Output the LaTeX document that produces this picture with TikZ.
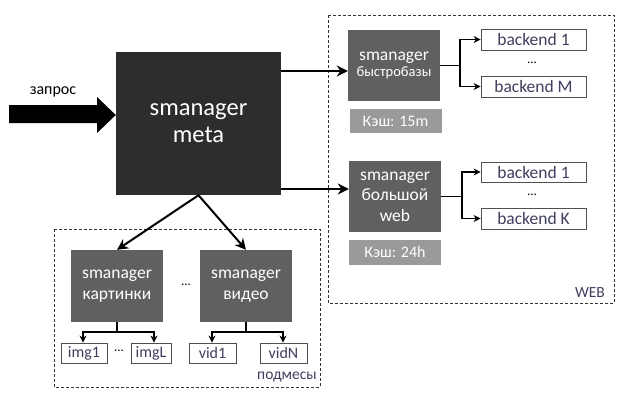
\documentclass[tikz,border=0pt]{standalone}
\usepackage{fontspec}
\setmainfont{Carlito}
\usetikzlibrary{arrows.meta}
\definecolor{metac}{HTML}{2D2D2D}
\definecolor{smc}{HTML}{606060}
\definecolor{cachec}{HTML}{9A9A9A}
\definecolor{slate}{HTML}{3F3F5F}
\definecolor{bordc}{HTML}{505050}
\tikzset{
  metabox/.style={fill=metac, text=white, inner sep=0pt, minimum width=165pt, minimum height=143pt, align=center, font=\fontsize{24.5}{27}\selectfont},
  smbox/.style={fill=smc, text=white, inner sep=0pt, minimum width=92pt, minimum height=71pt, align=center, font=\fontsize{17.5}{20.5}\selectfont},
  cachebox/.style={fill=cachec, text=white, inner sep=0pt, minimum width=92pt, minimum height=24pt, font=\fontsize{16}{18}\selectfont},
  bebox/.style={draw=bordc, line width=0.8pt, fill=white, text=slate, inner sep=0pt, minimum width=105pt, minimum height=21pt, font=\fontsize{17.5}{18}\selectfont},
  smallbox/.style={draw=bordc, line width=0.8pt, fill=white, text=slate, inner sep=0pt, minimum height=20pt, font=\fontsize{16}{18}\selectfont},
  dotsnode/.style={text=black, inner sep=0pt, font=\fontsize{13}{15}\selectfont},
  grp/.style={draw=black!80, line width=0.8pt, dash pattern=on 3pt off 2pt},
  grplabel/.style={text=slate, inner sep=0pt, font=\fontsize{15.5}{18}\selectfont},
  bigarr/.style={-{Stealth[length=11pt,width=11pt]}, line width=2pt},
  forkarr/.style={-{Stealth[length=7pt,width=7pt]}, line width=1.3pt},
}
\begin{document}
\begin{tikzpicture}[x=1pt,y=-1pt]
\useasboundingbox (0,0) rectangle (621,400);
% group frames
\draw[grp] (328,15) rectangle (614,303);
\draw[grp] (54,229) rectangle (320,387);
\node[grplabel] (weblbl) at (590,293) {WEB};
\node[grplabel] (podlbl) at (287,377) {подмесы};

% main
\node[metabox] (meta) at (198.5,123.5) {smanager\\meta};
\fill (9,105) -- (97,105) -- (97,97) -- (meta.west |- 0,115) -- (97,133) -- (97,123) -- (9,123) -- cycle;
\node[inner sep=0pt, font=\fontsize{16}{18}\selectfont] (zapros) at (53,92) {запрос};

% web part
\node[smbox, font=\fontsize{17.5}{16}\selectfont] (bys) at (394,65.5) {smanager\\{\fontsize{14.5}{16}\selectfont быстробазы}};
\node[cachebox] (c15) at (395.5,121) {Кэш: 15m};
\node[bebox] (b1a) at (533.5,39.5) {backend 1};
\node[bebox] (bMa) at (533.5,86.5) {backend M};
\node[dotsnode] (d1) at (532,63) {...};

\node[smbox] (bol) at (395,196.5) {smanager\\большой\\web};
\node[cachebox, minimum height=25pt] (c24) at (395,252.5) {Кэш: 24h};
\node[bebox, minimum height=20pt] (b1b) at (533.5,172) {backend 1};
\node[bebox] (bK) at (533.5,218.5) {backend K};
\node[dotsnode] (d2) at (532,195) {...};

% sub part
\node[smbox, minimum height=72pt] (kart) at (117,286) {smanager\\картинки};
\node[smbox, minimum height=72pt] (vid) at (246,286) {smanager\\видео};
\node[dotsnode] (d3) at (186,285) {...};
\node[smallbox, minimum width=46pt] (img1) at (84,353) {img1};
\node[smallbox, minimum width=40pt] (imgL) at (151,353) {imgL};
\node[dotsnode] (d4) at (119,351) {...};
\node[smallbox, minimum width=47pt] (vid1) at (212.5,353) {vid1};
\node[smallbox, minimum width=47pt] (vidN) at (283.5,353) {vidN};

% connectors from meta
\draw[bigarr] (meta.east |- 0,71) -- (bys.west |- 0,71);
\draw[bigarr] (meta.east |- 0,189) -- (bol.west |- 0,189);
\draw[bigarr] (meta.south) -- (kart.north);
\draw[bigarr] (meta.south) -- (vid.north);

% forks
\draw[line width=1.3pt] (bys.east) -- (460,65.5) coordinate (fa);
\draw[forkarr] (fa) |- (b1a.west);
\draw[forkarr] (fa) |- (bMa.west);
\draw[line width=1.3pt] (bol.east) -- (462,196.5) coordinate (fb);
\draw[forkarr] (fb) |- (b1b.west);
\draw[forkarr] (fb) |- (bK.west);
\draw[line width=1.3pt] (kart.south) -- (117,332) coordinate (fc);
\draw[forkarr] (fc) -| (img1.north -| 83,0);
\draw[forkarr] (fc) -| (imgL.north -| 154,0);
\draw[line width=1.3pt] (vid.south) -- (246,332) coordinate (fd);
\draw[forkarr] (fd) -| (vid1.north -| 212,0);
\draw[forkarr] (fd) -| (vidN.north -| 283,0);
\end{tikzpicture}
\end{document}
